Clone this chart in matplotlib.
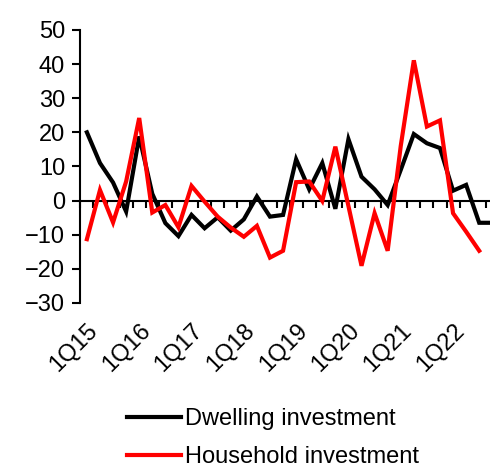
import matplotlib
matplotlib.use("Agg")
import matplotlib.pyplot as plt
import numpy as np

plt.rcParams['font.family'] = ['Liberation Sans', 'DejaVu Sans']

# Quarterly series, 1Q15 onwards
quarters = [f"{q}Q{y:02d}" for y in range(15, 23) for q in range(1, 5)]
dwelling = [20.0, 11.0, 5.3, -3.2, 18.8, 2.0, -6.6, -10.4, -4.2, -8.1,
            -4.9, -8.8, -5.5, 1.2, -4.7, -4.2, 12.1, 3.3, 11.0, -2.4,
            18.0, 7.0, 3.3, -1.3, 9.0, 19.5, 16.8, 15.4, 2.9, 4.6,
            -6.5, -6.5]
household = [-11.3, 3.1, -6.4, 5.6, 24.2, -3.5, -1.3, -7.8, 4.3, -0.3,
             -4.7, -7.9, -10.6, -7.4, -16.7, -14.7, 5.4, 5.6, -0.1, 15.8,
             -1.6, -19.1, -3.7, -14.7, 16.0, 41.1, 21.7, 23.5, -3.7, -9.1,
             -14.7]
series_names = ["Dwelling investment", "Household investment"]
y_ticks = [50, 40, 30, 20, 10, 0, -10, -20, -30]

fig = plt.figure(figsize=(4.9, 4.68), dpi=100)
ax = fig.add_axes([0.164, 0.3526, 0.854, 0.5834])

x_d = np.arange(len(dwelling))
x_h = np.arange(len(household))
ax.plot(x_d, dwelling, color="black", lw=3.0, label=series_names[0],
        solid_joinstyle="miter")
ax.plot(x_h, household, color="#ff0000", lw=3.0, label=series_names[1],
        solid_joinstyle="miter")

ax.set_xlim(-0.5, len(quarters) - 0.5)
ax.set_ylim(-30, 50)
ax.set_yticks(y_ticks)
ax.tick_params(axis="y", direction="out", length=6, width=1.5,
               labelsize=17, pad=5)

for s in ["top", "right", "bottom"]:
    ax.spines[s].set_visible(False)
ax.spines["left"].set_linewidth(1.5)

# Category labels at the bottom, one per year
label_pos = np.arange(0, len(quarters), 4)
ax.set_xticks(label_pos)
ax.set_xticklabels([quarters[i] for i in label_pos], rotation=45,
                   ha="right", rotation_mode="anchor")
ax.tick_params(axis="x", length=0, labelsize=17, pad=12)

# Zero line with tick marks between categories
zero_frac = (0 - (-30)) / (50 - (-30))
sec = ax.secondary_xaxis(zero_frac)
sec.spines["bottom"].set_linewidth(1.5)
sec.set_xticks(np.arange(len(quarters) + 1) - 0.5)
sec.tick_params(axis="x", direction="out", length=5, width=1.5,
                labelbottom=False)
sec.set_xticklabels([])

fig.legend(loc="upper left", bbox_to_anchor=(0.26, 0.128),
           frameon=False, fontsize=17, handlelength=2.25,
           handletextpad=0.2, labelspacing=0.68, borderpad=0,
           borderaxespad=0)

fig.savefig("out.png", dpi=100)
